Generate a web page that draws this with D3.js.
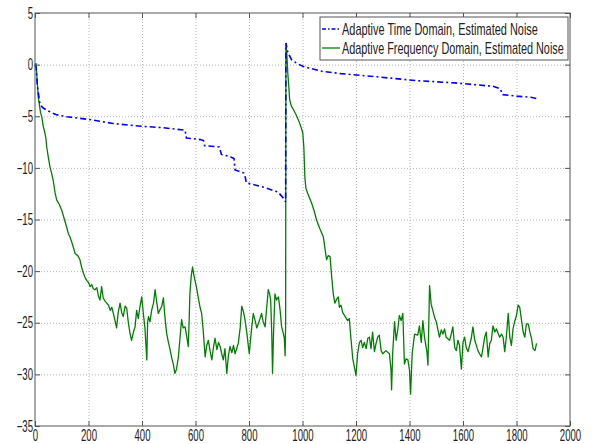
<!DOCTYPE html>
<html>
<head>
<meta charset="utf-8">
<script src="https://cdn.jsdelivr.net/npm/d3@7"></script>
<style>
  body { margin: 0; background: #fff; }
  text { font-family: "Liberation Sans", Arial, sans-serif; fill: #222; }
</style>
</head>
<body>
<div id="chart"></div>
<script>
// tick values
var xTicks = [0, 200, 400, 600, 800, 1000, 1200, 1400, 1600, 1800, 2000];
var yTicks = [5, 0, -5, -10, -15, -20, -25, -30, -35];

var seriesNames = [
  'Adaptive Time Domain, Estimated Noise',
  'Adaptive Frequency Domain, Estimated Noise'
];

// Adaptive Time Domain (blue, dash-dot), [x, y]
var timePoints = [
  [0, 0], [4, -0.3], [9, -2.1], [19, -3.9], [31, -4.2], [50, -4.5], [78, -4.84], [120, -5.05],
  [199, -5.3], [291, -5.7], [398, -5.97], [476, -6.1], [561, -6.35], [566, -7.1], [618, -7.26],
  [630, -7.35], [634, -7.85], [689, -7.97], [697, -8.7], [732, -8.94], [744, -9.1], [748, -10.2],
  [781, -10.5], [786, -10.9], [790, -11.45], [859, -11.9], [909, -12.35], [933, -13.06], [937, -13.3],
  [938, 2.1], [945, 1.2], [959, 0.48], [980, 0.1], [1001, -0.16], [1072, -0.65], [1143, -0.87],
  [1285, -1.2], [1427, -1.55], [1570, -1.77], [1712, -2.1], [1740, -2.35], [1747, -2.9], [1800, -3.05],
  [1854, -3.16], [1875, -3.29]
];

// Adaptive Frequency Domain (green, solid), [x, y]
var freqPoints = [
  [0, 0], [4, 0.1], [8, -1.5], [12, -3.1], [21, -4.7], [25, -5.0], [31, -6.0], [37, -6.6], [41, -7.2],
  [44, -8.0], [50, -9.0], [56, -9.9], [62, -10.5], [68, -11.2], [75, -12.4], [81, -13.1], [90, -13.5],
  [100, -14.1], [110, -15.0], [118, -15.7], [125, -16.4], [131, -16.7], [140, -17.4], [150, -18.3],
  [160, -18.5], [168, -18.9], [175, -19.7], [181, -20.2], [187, -20.6], [193, -20.9], [200, -21.1],
  [206, -21.5], [212, -21.3], [218, -21.7], [224, -21.8], [231, -21.6], [237, -22.4], [243, -22.8],
  [249, -21.5], [255, -22.6], [262, -22.9], [268, -23.1], [275, -23.3], [281, -23.8], [287, -23.5],
  [293, -24.1], [299, -24.8], [305, -25.5], [311, -24.0], [318, -23.1], [324, -24.0], [330, -24.4],
  [337, -23.4], [343, -23.6], [349, -25.0], [355, -26.0], [361, -26.7], [368, -25.9], [374, -25.4],
  [380, -23.8], [386, -24.6], [392, -23.5], [399, -22.5], [405, -24.1], [411, -25.5], [418, -28.6],
  [421, -25.0], [424, -24.4], [430, -24.9], [436, -23.8], [443, -23.1], [449, -21.8], [455, -23.0],
  [461, -24.1], [468, -23.7], [474, -23.4], [480, -22.6], [486, -24.5], [492, -26.0], [498, -26.8],
  [505, -27.6], [511, -28.4], [517, -29.0], [523, -29.9], [529, -29.5], [536, -28.3], [542, -26.5],
  [548, -24.7], [554, -25.5], [561, -25.4], [567, -26.3], [573, -27.3], [576, -25.0], [579, -22.2],
  [584, -20.5], [589, -19.6], [594, -20.4], [598, -20.9], [604, -21.6], [610, -22.5], [617, -23.5],
  [623, -24.1], [629, -25.8], [636, -28.3], [642, -27.2], [648, -26.7], [655, -27.8], [661, -28.6],
  [667, -27.4], [673, -26.5], [680, -27.6], [686, -26.9], [692, -27.3], [698, -28.0], [704, -28.6],
  [710, -27.5], [717, -29.9], [723, -28.2], [729, -27.3], [736, -27.9], [742, -27.2], [748, -28.0],
  [754, -27.5], [760, -27.0], [767, -25.5], [773, -23.4], [779, -23.9], [785, -24.7], [792, -26.0],
  [801, -28.0], [808, -26.0], [816, -24.1], [823, -24.8], [829, -25.5], [835, -25.1], [841, -24.6],
  [847, -24.1], [853, -24.9], [860, -25.4], [866, -23.6], [872, -21.8], [877, -22.2], [881, -22.8],
  [885, -26.0], [888, -29.9], [892, -25.8], [897, -22.2], [903, -22.8], [910, -22.5], [916, -23.7],
  [922, -25.4], [928, -26.0], [932, -26.5], [935, -28.2], [937, -25.0], [938, 2.0], [942, 0.8],
  [945, -0.8], [949, -2.2], [952, -3.4], [958, -4.0], [966, -4.35], [975, -4.8], [987, -5.5],
  [995, -6.1], [1001, -6.6], [1005, -8.0], [1009, -11.0], [1013, -12.0], [1020, -12.5], [1034, -13.4],
  [1044, -14.2], [1053, -15.1], [1065, -15.9], [1078, -16.7], [1084, -17.8], [1090, -18.9],
  [1096, -18.5], [1103, -18.6], [1109, -20.5], [1115, -22.2], [1121, -23.1], [1128, -22.7],
  [1134, -22.5], [1138, -23.5], [1144, -23.3], [1150, -24.0], [1162, -24.5], [1169, -24.8],
  [1175, -24.6], [1181, -26.5], [1188, -28.5], [1194, -29.3], [1200, -30.1], [1206, -28.0],
  [1213, -26.9], [1219, -26.7], [1225, -27.4], [1231, -26.9], [1238, -27.5], [1244, -26.5],
  [1250, -26.4], [1256, -27.5], [1262, -25.9], [1269, -27.8], [1275, -27.0], [1281, -26.4],
  [1287, -26.2], [1294, -27.7], [1300, -28.0], [1312, -27.7], [1325, -28.0], [1331, -29.6],
  [1333, -31.5], [1337, -28.0], [1344, -24.9], [1350, -26.7], [1356, -25.7], [1362, -24.3],
  [1369, -24.8], [1375, -24.1], [1381, -29.0], [1387, -28.5], [1394, -28.6], [1400, -29.6],
  [1404, -31.9], [1410, -28.0], [1419, -26.1], [1431, -26.2], [1437, -25.3], [1444, -26.9],
  [1450, -24.8], [1456, -26.4], [1465, -27.8], [1469, -29.1], [1475, -21.4], [1481, -23.2],
  [1494, -24.5], [1500, -24.9], [1512, -26.4], [1519, -25.7], [1525, -26.1], [1531, -25.6],
  [1537, -26.4], [1550, -26.7], [1556, -26.1], [1562, -25.4], [1569, -27.4], [1575, -27.7],
  [1581, -26.7], [1587, -27.2], [1594, -29.5], [1600, -26.9], [1606, -26.4], [1612, -27.4],
  [1619, -27.8], [1631, -26.5], [1637, -25.4], [1644, -26.7], [1656, -27.7], [1662, -28.0],
  [1669, -28.3], [1675, -27.4], [1681, -26.4], [1687, -25.9], [1694, -28.3], [1700, -27.0],
  [1706, -26.7], [1712, -25.3], [1719, -25.9], [1725, -25.6], [1737, -26.4], [1744, -26.1],
  [1750, -26.4], [1756, -27.8], [1762, -26.4], [1769, -24.1], [1775, -26.4], [1781, -27.2],
  [1787, -25.6], [1794, -24.8], [1800, -24.3], [1806, -23.3], [1812, -23.5], [1819, -24.8],
  [1825, -25.9], [1831, -26.4], [1837, -25.1], [1844, -25.1], [1850, -25.9], [1856, -26.5],
  [1862, -27.5], [1869, -27.7], [1875, -27.0]
];

var svg = d3.select('#chart').append('svg')
  .attr('width', 594)
  .attr('height', 444)
  .style('display', 'block');

var margin = { top: 13, right: 24, bottom: 18, left: 35 };
var width = 594 - margin.left - margin.right;
var height = 444 - margin.top - margin.bottom;

var g = svg.append('g')
  .attr('transform', 'translate(' + margin.left + ',' + margin.top + ')');

var x = d3.scaleLinear().domain([0, 2000]).range([0, width]);
var y = d3.scaleLinear().domain([-35, 5]).range([height, 0]);

var boxColor = '#555';
var squeeze = 0.6; // labels in the original are horizontally condensed

// dotted grid
g.append('g')
    .attr('class', 'grid grid--x')
    .call(d3.axisBottom(x).tickValues(xTicks.slice(1, -1)).tickSize(height).tickFormat(''))
    .call(function(s) { s.select('.domain').remove(); })
  .selectAll('line')
    .attr('stroke', '#b4b4b4')
    .attr('stroke-dasharray', '1,2');

g.append('g')
    .attr('class', 'grid grid--y')
    .call(d3.axisLeft(y).tickValues(yTicks.slice(1, -1)).tickSize(-width).tickFormat(''))
    .call(function(s) { s.select('.domain').remove(); })
  .selectAll('line')
    .attr('stroke', '#b4b4b4')
    .attr('stroke-dasharray', '1,2');

// lines
var line = d3.line()
  .x(function(d) { return x(d[0]); })
  .y(function(d) { return y(d[1]); });

g.append('path')
  .datum(freqPoints)
  .attr('fill', 'none')
  .attr('stroke', '#007f00')
  .attr('stroke-width', 1.3)
  .attr('stroke-linejoin', 'round')
  .attr('d', line);

g.append('path')
  .datum(timePoints)
  .attr('fill', 'none')
  .attr('stroke', '#0000ff')
  .attr('stroke-width', 1.6)
  .attr('stroke-dasharray', '6,3,2,3')
  .attr('d', line);

// box + inward ticks
g.append('rect')
  .attr('width', width)
  .attr('height', height)
  .attr('fill', 'none')
  .attr('stroke', boxColor)
  .attr('stroke-width', 1);

var xAxis = g.append('g')
    .attr('class', 'axis axis--x')
    .attr('transform', 'translate(0,' + height + ')')
    .call(d3.axisBottom(x).tickValues(xTicks).tickSize(-5).tickFormat(d3.format('d')));
xAxis.select('.domain').remove();

var yAxis = g.append('g')
    .attr('class', 'axis axis--y')
    .call(d3.axisLeft(y).tickValues(yTicks).tickSize(-5).tickFormat(d3.format('d')));
yAxis.select('.domain').remove();

g.append('g')
    .attr('transform', 'translate(' + width + ',0)')
    .call(d3.axisRight(y).tickValues(yTicks).tickSize(-5).tickFormat(''))
    .select('.domain').remove();

g.append('g')
    .call(d3.axisTop(x).tickValues(xTicks).tickSize(-5).tickFormat(''))
    .select('.domain').remove();

g.selectAll('.tick line').filter(function() { return !this.closest('.grid'); })
  .attr('stroke', boxColor);

g.selectAll('.axis text')
  .style('font-size', '16px')
  .attr('fill', '#222');

xAxis.selectAll('text')
  .attr('x', 0)
  .attr('y', 0)
  .attr('dy', '0.72em')
  .attr('transform', 'translate(0,3) scale(' + squeeze + ',1)');

yAxis.selectAll('text')
  .attr('x', 0)
  .attr('transform', 'translate(-2,0) scale(' + squeeze + ',1)');

// legend
var legend = svg.append('g')
  .attr('transform', 'translate(320,17)');

legend.append('rect')
  .attr('width', 248)
  .attr('height', 43)
  .attr('fill', '#fff')
  .attr('stroke', boxColor);

var legendItems = [
  { name: seriesNames[0], color: '#0000ff', dash: '4,2,1.5,2', width: 1.4, len: 196 },
  { name: seriesNames[1], color: '#007f00', dash: null, width: 1.3, len: 222 }
];

legendItems.forEach(function(d, i) {
  var cy = 12 + i * 19;
  legend.append('line')
    .attr('x1', 2).attr('x2', 20)
    .attr('y1', cy).attr('y2', cy)
    .attr('stroke', d.color)
    .attr('stroke-width', d.width)
    .attr('stroke-dasharray', d.dash);
  var t = legend.append('text')
    .attr('dy', '0.35em')
    .style('font-size', '16px')
    .text(d.name);
  var natural = t.node().getComputedTextLength();
  t.attr('transform', 'translate(22,' + cy + ') scale(' + (d.len / natural) + ',1)');
});
</script>
</body>
</html>
